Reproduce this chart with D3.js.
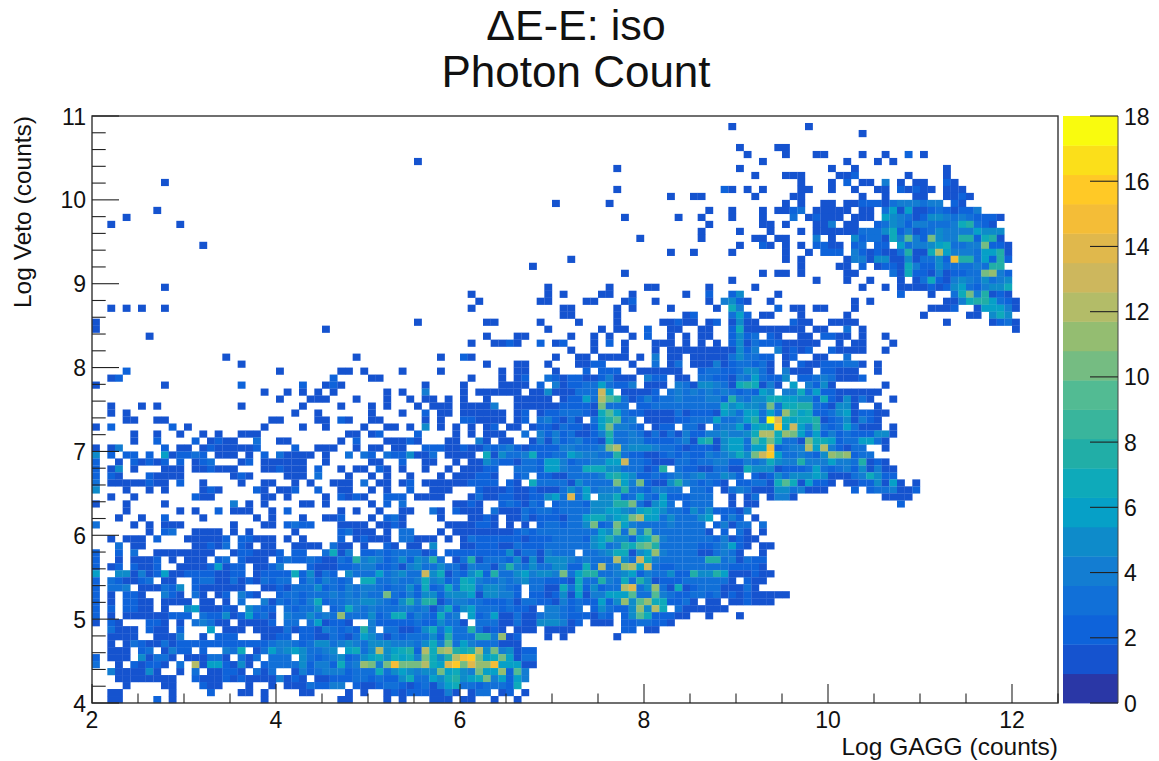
<!DOCTYPE html>
<html><head><meta charset="utf-8">
<script src="https://cdn.jsdelivr.net/npm/d3@7/dist/d3.min.js"></script>
<style>
html,body{margin:0;padding:0;background:#fff}
svg{display:block}
text{font-family:"Liberation Sans",Arial,sans-serif;fill:#111}
</style></head><body><svg id="c" width="1159" height="761"></svg>
<script>
const titleLines = ["\u0394E-E: iso", "Photon Count"];
const xTitle = "Log GAGG (counts)";
const yTitle = "Log Veto (counts)";
const xTicks = [2,4,6,8,10,12];
const yTicks = [4,5,6,7,8,9,10,11];
const zTicks = [0,2,4,6,8,10,12,14,16,18];
const palette = ["#2a37a6","#1553cf","#0e63da","#1170d8","#137dd2","#0e8bca","#06a0c7","#0eaaba","#21aea7","#39b59c","#52bb93","#75bc82","#94bd71","#b3bc68","#cdb75d","#e0b84c","#f4bd37","#ffc926","#fbdf1a","#f9fb0e"];
// One string per histogram row, top to bottom. "col:values" sets a start column, values are base-19 counts, "." is empty.
const rowsTop = [
"",
"83:1 93:1",
"100:1",
"",
"84:1 89:11",
"85:1 90:1 94:11 100:1 103:1 106:2 108:1",
"42:1 87:1 98:1 102:1 104:1",
"68:1 84:1 96:1 99:1 111:1",
"86:1 90:111 97:112 106:1 111:1",
"9:1 92:1 96:1 98:2 100:11 103:4 105:1 107:11 111:21",
"68:1 82:21 85:1 87:1 92:11 96:1 99:1 102:11 105:21211 111:111",
"75:1 78:11 86:1 91:11 100:1 103:1 107:11 111:1121",
"60:1 67:1 90:1 92:1 95:11 98:11 100:222 103:1 104:3444344 112:21",
"8:1 80:1 83:1 87:1 89:11 91:23 94:11111 100:11 103:3616112321224",
"4:1 69:1 76:1 79:1 83:1 87:1 91:3 93:12111 99:111 103:6543125543432221",
"2:1 11:1 80:1 87:11 90:1 94:114 98:1 99:1 102:2354244333478321",
"79:1 84:1 88:1 92:1 94:1111113335724123544446555",
"71:1 79:1 86:11 89:11 94:4 96:1 99:5233174942a544882781",
"14:1 84:1 87:21 90:1 92:1 94:2211 99:23.22.63445673344a221",
"75:1 78:1 83:1 90:1 93:1 95:222 99:42121138117c644436681",
"62:1 90:1 92:1 98:14415511513352f8836282",
"57:1 92:1 97:11 100:2 102:12217422533334388",
"69:1 87:1 89:11 92:1 98:11 104:317221412233ab42",
"83:1 94:1 98:1 101:1 105:1 107:1372145435345",
"9:1 59:1 67:1 72:11 80:1 86:1 100:1 103:1 105:111121256324557",
"49:1 59:1 61:1 66:11 70:1 77:1 80:2 83:25 89:1 105:2 109:1 112:37a48121",
"50:1 58:11 64:11 69:1 70:2 73:1 80:1 82:4521 88:1 99:1 101:1 111:11 113:47886321",
"2:1 4:1 6:1 9:1 49:1 61:11 68:1 70:1 75:1 81:1 83:74 89:2 91:11 94:11 99:1 109:1112 115:166641"
];
const rowsMiddle = [
"61:11 68:1 77:12 83:362 87:11 92:1 98:1 108:1 114:11 117:575",
"0:1 42:1 51:11 58:1 63:1 68:1 74:112 77:11 80:1 81:2 83:1511 91:211 96:1111 111:1 117:1231",
"0:1 30:1 59:1 66:1 68:11 72:2 75:11 79:11 83:2711 86:1111111 94:11 98:3 100:1 120:1",
"7:1 51:1 55:11 62:1 65:1 67:1 70:1 72:2 75:1 77:1 79:11 83:2523 88:21 92:11 95:2211 100:1 103:1",
"49:1 52:1121 58:2 60:12 65:1 67:2 69:1 73:111 77:1 79:1 81:1 83:251322211111 97:1 99:11 104:1",
"62:1 65:1 69:1 73:1 75:111 78:11111 83:1524 89:41212 96:21111 103:1",
"17:1 34:1 45:1 48:21 60:1 63:11 66:1111 71:1 73:4 75:11 78:11111 83:353322 90:12 94:11 98:3",
"19:1 51:1 55:11 59:1 63:11 65:22 70:1 73:3 75:1 76:3 78:111 81:41 83:233231 90:1 92:211222331 102:1",
"4:2 24:1 32:11 35:1 40:1 45:1 53:1 55:11 60:1 64:2 66:222 71:111111 79:233 82:2235531 90:4111 95:22111 102:1",
"2:12 31:2 36:11 49:1 53:1 55:12 59:321221124111 72:422 76:11 79:332 82:214363225 92:223431112",
"0:1 9:1 19:2 27:2 30:121 43:1 48:1 53:1111 58:2 60:41223363224 72:111 76:431554 82:31787141 91:6 93:4251 103:1",
"22:1 25:1 27:1 29:1 31:1 38:1 40:1 43:4 48:1 50:111111 57:11 59:5 60:111 63:333 66:d6 69:1111 73:2 75:3434343 82:4323265 90:4473622111111",
"24:1 28:111 34:1 38:1 41:1 43:11 46:1 48:1 51:1 55:11111 61:12263c983124233433344 28435577665527215131 104:1",
"2:1 6:1 8:1 19:1 27:1 32:1 36:1 38:1 42:1 44:111 48:1111 52:4 55:111111 61:22221a333.22333333333 756554a37788321551 102:1",
"2:1 4:1 26:1 29:1 36:1 40:1 43:2 45:11 48:11111 53:1 55:12 58:122 333217963221111312221 65366363b8672235612211",
"4:11 8:11 23:11 29:11 32:21 36:11 43:1 45:1 48:22 50:111 53:1 55:12 58:342131.368934.1111223336 334683ie7677812351421",
"0:1 2:2 10:2 12:1 22:1 27:1 30:1 35:1 38:11 41:1 43:5 45:1 47:1 49:1 51:12 54:11 57:1221322126a4432.122.331.3 4462676g6d64832363111 104:1",
"5:1 8:1 11:1 14:1 16:1 19:111 33:11 36:12 42:2 47:1 49:1 51:111 56:3 58:424231124833431313142244 54457cc7ba6362423222551",
"5:1 8:2 13:2 15:1 16:2 17:11 21:3 24:11 32:1 34:2 38:1112 42:1 46:1 47:1 50:41 53:11 57:1414234221733442222341781 566397a7331a7762336631",
"0:1 2:1 3:4 9:2 11:11 14:1211111 21:2 26:2 29:111 34:1 36:11 39:11 43:22211 21132 34212 22244 3334a c4555 43321 2221 566 3 6 6 f 2 3 4 4 c 6 c 4 2 1 3 3 103:1",
"0:5 2:2 4:22 7:2 9:6122 32.11 1.1.2 .3111 1.1.. 3.32. 322 51 1 3.111 1.7 15 3 3 4 7 2 2 3 3 6 5 4 4 3 3 8 3 2 2 1 1 2 3 2 3 2 2 4 3 4 5 7 5 a d g 6 3 3 4 3 2 5 b a b 2 3 3",
"0:2 3:1 5:21212 11:2 13:123 19:12 22:111111 30:1 36:11 40:2 43:11..1 .115 3 2 2 1 3 3 2 6 6 4 2 3 3 4 4 6 6 d 3 3 2 1 1 1 3 3 2 3 3 4 4 2 2 4 3 4 7 5 4 4 8 4 4 4 6 4 4 3 8 1 2 1",
"0:2 2:15 5:1 9:111 13:112111 22:112111 29:2 32:1 34:11 37:21 40:1 43:1..1. 1 1 1 2 2 . . 3 3 3 2 6 6 4 3 3 7 7 7 5 5 3 3 3 1 2 8 . 3 2 2 1 1 3 3 1 1 7 5 5 5 1 2 2 2 3 6 3 2 3 4 2 5 1 4 1 1",
"0:2 2:21 7:21111 18:121 25:111 29:3 33:1 36:1 38:1 41:1 45:1.111 2 2 1 . . 2 3 . 2 2 1 1 3 3 3 3 4 7 8 6 5 2 2 3 2 3 4 3 4 5 3 3 5 4 2 . 2 1 2 5 3 5 5 5 6 5 1 1 1 3 4 7 5 2 2",
"0:3 2:111112 8:11 11:2 14:1 19:1 22:11 26:1 28:1 31:111 35:3 37:11 40:12 43:111111 2 2 2 2 . 2 1 . 7 3 3 3 3 1 5 3 3 3 3 a 6 4 a 2 1 1 5 8 4 3 2 3 2 1 . 2 2 3 3 1 7 9 7 1 6 2 2 1 . 1 1 2 2 5 1 6 1 . 1",
"0:5 4:1 7:1 9:1 14:121 21:21 24:112 29:2 32:11 36:1 38:1 41:2 44:111... 2 1 1 1 2 1 1 2 1 1 1 3 5 3 6 3 4 4 4 8 3 3 2 4 4 3 3 . 3 3 2 . 1 3 4 3 1 1 1 5 5 3 4 1 1 1 99:2 101:2334112",
"2:1 5:1 13:211 22:11 25:1 30:1 32:2121 38:222 42:1 43:111... 1 3 1 1 2 2 1 1 2 2 5 6 3 e 3 6 . 5 5 7 2 3 6 3 2 6 2 2 2 3 3 3 83:1 85:13 88:1441 103:1111",
"0:1 4:1 9:1 18:4 20:1 22:1 27:11 30:1 36:1 38:2 40:3 47:1121..232 1 3 2 . 2 3 3 3 2 5 5 5 8 8 a 3 1 5 6 3 . 2 3 3 3 83:1 85:11 105:2"
];
const rowsLower = [
"4:1 11:1 13:1 16:2 18:111 23:1 25:2 32:1 34:1 37:1 40:11 44:31.2111.31 1 1 3 2 3 3 2 3 3 3 3 5 5 6 6 5 4 6 7 6 5 3 3 2 5 3 5 2 2 2 1 85:4",
"3:1 6:1 9:2 14:1 21:1 23:1 27:1 30:112 36:1 38:231 45:1...1121.1 1 3 1 2 2 2 1 3 3 6 7 7 5 6 7 a c 6 6 3 5 3 3 3 5 6 . 2 4 2 . 1",
"0:3 5:1 7:1 9:111 18:1 22:11 25:2322 32:1111 37:112 40:1 46:1111221.1. 1.233 2 3 3 5 a 2 3 a 6 4 3 3 3 3 4 3 3 3 3 . 2 4 1 3 3 . 3",
"7:1 9:23 13:1111 18:1 20:1 26:1 32:23111 38:1 40:33 45:1.11111111 2 3 2 3 3 3 3 3 3 3 3 6 5 9 3 a 4 9 3 3 3 3 3 3 3 1 . 2 . 3 1 . 1",
"2:1 4:111 8:2 12:111112 19:22111 25:1 27:1 32:2 34:1211 38:1 40:331 43:11.1.13222 2 2 2 1 2 2 2 3 3 3 3 2 5 6 8 5 5 2 6 7 a 4 3 3 3 3 3 3 2 4 1 2 1 1",
"3:3 5:11 13:11213 19:21 22:11 26:1111 31:3 32:11 35:1 38:2 39:1 41:1 42:1 44:5...11222 1 1 3 2 2 2 3 3 3 3 3 3 5 6 3 4 8 7 9 a 8 3 3 3 3 3 2 2 3 4 6 2 1 . 1 1",
"0:2 3:2 5:3 8:1111111 15:1 18:122 21:111 24:2 26:22 30:3 31:71 33:4 35:223 38:23 40:33 42:3 43:12.2222222 2 5 1 3 3 1 4 3 3 3 . 3 3 4 5 7 7 1 5 6 b 4 3 3 3 3 1 1 3 4 3 1 . . 1",
"0:2 3:1 5:1112 10:1 12:111 16:23 19:2111 24:2322321132 8 4 5 4 2 3 5 2 5 4 8 3 . 1 3 8 1 3 3 3 2 5 1 5 1 5 5 5 4 3 4 3 3 3 c 5 3 d 7 4 3 3 3 3 3 3 8 8 3 4 1 3 2 2",
"0:2 2:12 5:2112 11:11112 16:6122 21:1124 28:2111223 35:44223 1 4 5 3 3 5 3 3 1 4 3 3 1 4 8 4 3 5 3 3 5 5 2 2 7 3 c 3 4 b c 6 d 3 2 2 3 3 3 3 3 3 3 2 2 2 2 1",
"0:6 3:55141 8:26112 13:222112 2 21:12222 26:72513 2 33:5333 6 3 4 5 3 3 d 5 7 1 3 2 5 7 2 8 3 3 5 6 4 5 5 4 a 3 6 8 8 3 3 4 5 6 2 4 3 3 5 2 2 8 5 5 8 6 1 1 1 2 1 1",
"0:2 2:32112 3 9:11 13:233113 1 2 1 3 2 3 3 27:2424323 35:77 3 3 4 3 3 4 7 4 5 2 3 7 6 4 3 3 4 3 4 5 3 3 2 2 2 1 7 3 3 8 4 3 7 3 8 5 1 2 2 2 3 3 3 3 3 3 1 . 2 1 1",
"0:2 2:334 6:111 3 2 5 13:2111111 22:11213 3 3 5 2 3 2 4 3 4 4 3 2 3 3 5 2 7 2 3 7 3 7 7 3 5 5 4 3 2 . 3 3 1 1 7 3 7 2 5 2 3 3 c e 3 5 b 3 1 7 1 2 3 3 3 1 1 1 3 1",
"0:2 2:1 4:221 9:421 13:31 16:12 19:421 24:2332333 4 3 4 3 4 3 3 a 3 2 4 2 5 5 2 5 5 5 6 1 5 5 4 4 2 . 2 2 1 2 5 1 6 1 4 4 6 6 6 9 3 3 9 4 3 2 2 3 3 2 3 1 2 1 2 1 1 1 1 1",
"0:2 2:1 4:2211 9:1111 14:11 17:1 19:3 22:41 24:3 2 3 2 4 7 2 3 3 4 4 5 5 4 3 2 5 8 4 8 8 1 3 4 4 3 3 2 2 2 3 1 3 3 2 2 1 4 2 3 2 2 6 2 5 b 5 9 b 7 7 2 2 3 1 . 1 1 . 1 1 2 1 1 1",
"0:2 2:2 4:2211 9:1 12:56111 2 1 . 5 3 2 2 . 3 2 3 3 5 . 2 3 7 4 3 4 3 3 3 4 4 3 4 1 4 7 2 5 6 3 3 3 2 3 2 2 1 . 4 4 3 2 3 . 2 5 3 2 2 5 b 5 c 7 . 3 1 1 1 1 1 1",
"0:2 2:1 4:111111 2 2 2 14:322 5 1 2 6 2 3 1 . 4 3 3 5 3 4 3 b 3 3 3 5 2 3 7 7 2 4 3 2 7 3 4 . 6 2 3 6 1 1 3 1 1 3 4 4 3 2 2 2 1 3 2 . 2 5 9 7 2 2 2 1 1 80:1 84:1",
"0:1 2:21 7:221 11:1 13:34311 19:11112 25:33 28:361221 36:4222223 2 2 5 3 3 1 . 3 3 3 1 1 3 1 1 5 5 5 4 1 2 . 1 1 1 . 2 2 3 3 2 2 1",
"2:3111 7:211 11:2 15:6 17:111 21:11113 1 2 2 1 4 3 2 3 2 8 4 . 3 3 1 1 2 5 7 3 6 3 3 8 3 1 2 1 . 1 1 1 . 1 1 1 1 69:22 72:11",
"2:1111 8:1114 14:1 16:222 22:1122 27:22113 2 1 3 6 5 3 1 3 2 3 3 3 5 2 8 3 3 3 8 8 4 b 1 2 59:1 61:1 68:1",
"2:1 4:1321131 2 2 2 2 2 2 2 2 2 2 2 2 3 4 4 3 2 3 5 5 3 4 5 4 3 5 5 5 4 4 4 3 5 7 4 9 3 6 4 3 3 3 1 1 1",
"2:111 6:23 9:1422 14:2 17:437 21:136456 5 3 3 4 5 . 6 7 3 5 c 5 6 7 8 2 c 7 b c 8 7 8 c 5 a 4 5 1 2 2",
"0:2 2:111 6:51331 12:111331 19:313 23:333 27:5323452 3 5 6 7 5 7 6 7 4 a 7 5 8 c f g a 6 7 a 6 1 3 3",
"0:3 3:1 5:212 2 1 11:3 13:c166215 1 22:2333 3 5 2 4 4 2 7 3 4 b a 4 a f a a a c 7 6 e g a e b b f 6 6 6 1 1",
"2:411115 1 11:1 13:3 15:11 2 2 1 21:313 26:14 2 3 4 4 4 2 3 3 3 7 3 5 6 5 4 5 5 a 6 7 5 4 a 6 6 b 2 9 4",
"3:11111111 13:2111 2 1 2 1 1 1 1 4 1 2 1 29:11222 3 3 2 3 2 2 5 7 3 3 6 5 7 8 5 6 7 a 4 6 2 6 4",
"4:1 9:11 14:211 20:1 23:1 25:11132244 34:211 2 3 3 2 1 2 3 1 4 6 7 3 3 2 3 3 3 2 7",
"2:11 10:1 15:2 19:11 22:1 27:11 33:1 35:1 38:12122 2 1 1 4 1 . 1 3 3 . 1 2 . 1",
"2:11 8:2 10:1 22:1 32:11 38:1 40:1 44:111 48:11 52:1 55:1"
];
const rowCells = rowsTop.concat(rowsMiddle, rowsLower);

const xBinsPerUnit = 12, yBinsPerUnit = 12;
const W = {l:92, r:1058, t:116, b:703, zl:1063, zr:1118};
const x = d3.scaleLinear().domain([2,12.5]).range([W.l,W.r]);
const y = d3.scaleLinear().domain([4,11]).range([W.b,W.t]);
const z = d3.scaleLinear().domain([0,18]).range([W.b,W.t]);
const color = d3.scaleQuantize().domain([0,18]).range(palette);

const cells = [];
rowCells.forEach((s,r)=>{
  let col = 0;
  s.split(/\s+/).filter(Boolean).forEach(tok=>{
    let d = tok;
    if (tok.includes(":")) { const p = tok.split(":"); col = +p[0]; d = p[1]; }
    for (const ch of d) {
      const v = parseInt(ch,19);
      if (!isNaN(v) && v>0) cells.push({c:col,r,v});
      col++;
    }
  });
});

const svg = d3.select("#c");
svg.append("g").selectAll("rect").data(cells).join("rect")
  .attr("x",d=>x(2+d.c/xBinsPerUnit))
  .attr("y",d=>y(11-d.r/yBinsPerUnit))
  .attr("width",d=>x(2+(d.c+1)/xBinsPerUnit)-x(2+d.c/xBinsPerUnit)+0.2)
  .attr("height",d=>y(11-(d.r+1)/yBinsPerUnit)-y(11-d.r/yBinsPerUnit)+0.2)
  .attr("fill",d=>color(d.v));

// frame
svg.append("rect").attr("x",W.l).attr("y",W.t).attr("width",W.r-W.l).attr("height",W.b-W.t)
  .attr("fill","none").attr("stroke","#333").attr("stroke-width",1.4);

// x axis ticks
const xMinor = d3.range(2,12.51,0.5);
const gx = svg.append("g");
gx.selectAll("line").data(xMinor).join("line")
  .attr("x1",d=>x(d)).attr("x2",d=>x(d)).attr("y1",W.b)
  .attr("y2",d=>W.b-(xTicks.includes(d)?19:9.5)).attr("stroke","#222").attr("stroke-width",1.1);
gx.selectAll("text").data(xTicks).join("text").attr("x",d=>x(d)).attr("y",727.5)
  .attr("text-anchor","middle").attr("font-size",23).text(d=>d);

// y axis ticks
const yMinor = d3.range(0,36).map(i=>4+i*0.2);
const gy = svg.append("g");
gy.selectAll("line").data(yMinor).join("line")
  .attr("x1",W.l).attr("y1",d=>y(d)).attr("y2",d=>y(d))
  .attr("x2",(d,i)=>W.l+(i%5===0?27:13.7)).attr("stroke","#222").attr("stroke-width",1.1);
gy.selectAll("text").data(yTicks).join("text").attr("x",86).attr("y",d=>y(d)+8.5)
  .attr("text-anchor","end").attr("font-size",23).text(d=>d);

// colour palette
const levels = palette.map((p,i)=>({p,lo:i*0.9,hi:(i+1)*0.9}));
svg.append("g").selectAll("rect").data(levels).join("rect")
  .attr("x",W.zl).attr("width",W.zr-W.zl)
  .attr("y",d=>z(d.hi)).attr("height",d=>z(d.lo)-z(d.hi)+0.4).attr("fill",d=>d.p);
svg.append("line").attr("x1",W.zr).attr("x2",W.zr).attr("y1",W.t).attr("y2",W.b).attr("stroke","#444").attr("stroke-width",1);
const gz = svg.append("g");
gz.selectAll("line").data(zTicks).join("line").attr("x1",W.zr-28).attr("x2",W.zr)
  .attr("y1",d=>z(d)).attr("y2",d=>z(d)).attr("stroke","#222").attr("stroke-width",1.1);
gz.selectAll("text").data(zTicks).join("text").attr("x",1124).attr("y",d=>z(d)+8.5)
  .attr("font-size",23).text(d=>d);

// titles
svg.append("g").selectAll("text").data(titleLines).join("text")
  .attr("x",576).attr("y",(d,i)=>i===0?40:87).attr("text-anchor","middle")
  .attr("font-size",(d,i)=>i===0?43:44).text(d=>d);
svg.append("text").attr("x",1058).attr("y",754.5).attr("text-anchor","end").attr("font-size",24.5).text(xTitle);
svg.append("text").attr("transform","translate(31,116) rotate(-90)").attr("text-anchor","end").attr("font-size",24.5).text(yTitle);
</script></body></html>
